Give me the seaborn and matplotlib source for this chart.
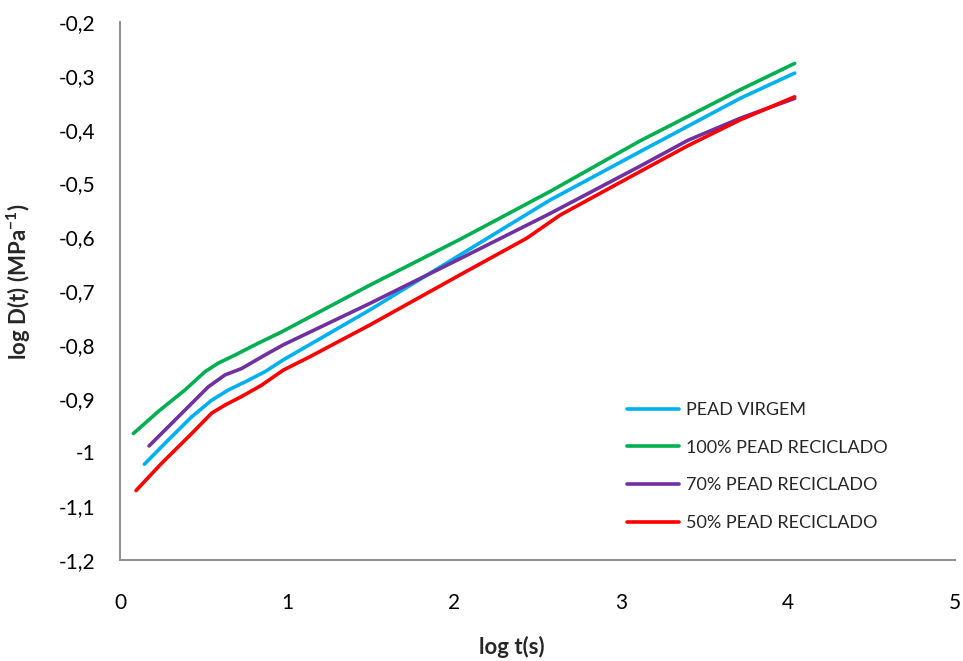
import matplotlib
matplotlib.use("Agg")
import matplotlib.pyplot as plt
from matplotlib.ticker import FuncFormatter, MultipleLocator
import pandas as pd
import seaborn as sns

# log t(s) / log D(t) readings for each material
virgem_x = [0.146, 0.289, 0.429, 0.549, 0.649, 0.749, 0.868, 0.978, 1.497, 2.036, 2.575, 3.114, 3.713, 4.04]
virgem_y = [-1.022, -0.977, -0.934, -0.903, -0.884, -0.869, -0.850, -0.828, -0.735, -0.633, -0.531, -0.441, -0.342, -0.295]

rec100_x = [0.080, 0.229, 0.389, 0.509, 0.589, 0.689, 0.828, 0.968, 1.497, 2.036, 2.575, 3.114, 3.713, 4.04]
rec100_y = [-0.965, -0.924, -0.884, -0.850, -0.834, -0.819, -0.797, -0.776, -0.689, -0.604, -0.515, -0.421, -0.326, -0.277]

rec70_x = [0.174, 0.329, 0.429, 0.529, 0.629, 0.729, 0.868, 0.978, 1.497, 2.036, 2.575, 3.114, 3.4, 3.713, 4.04]
rec70_y = [-0.988, -0.940, -0.909, -0.878, -0.856, -0.844, -0.819, -0.800, -0.723, -0.640, -0.556, -0.468, -0.42, -0.379, -0.342]

rec50_x = [0.096, 0.250, 0.429, 0.549, 0.629, 0.729, 0.848, 0.978, 1.138, 1.497, 2.036, 2.435, 2.635, 3.114, 3.4, 3.713, 4.04]
rec50_y = [-1.071, -1.020, -0.965, -0.927, -0.912, -0.896, -0.875, -0.847, -0.822, -0.763, -0.670, -0.602, -0.559, -0.478, -0.43, -0.382, -0.339]

series_names = ["PEAD VIRGEM", "100% PEAD RECICLADO", "70% PEAD RECICLADO", "50% PEAD RECICLADO"]
series_colors = ["#00B0F0", "#00B050", "#7030A0", "#FF0000"]

xticks = [0, 1, 2, 3, 4, 5]

sns.set_theme(style="white")
plt.rcParams["font.family"] = ["Lato", "DejaVu Sans"]
plt.rcParams["mathtext.fontset"] = "custom"
plt.rcParams["mathtext.rm"] = "Lato"
plt.rcParams["mathtext.bf"] = "Lato:bold"
plt.rcParams["axes.unicode_minus"] = False

frames = []
for name, xs, ys in zip(series_names,
                        [virgem_x, rec100_x, rec70_x, rec50_x],
                        [virgem_y, rec100_y, rec70_y, rec50_y]):
    frames.append(pd.DataFrame({"x": xs, "y": ys, "serie": name}))
df = pd.concat(frames, ignore_index=True)

fig = plt.figure(figsize=(9.63, 6.61), dpi=100)
ax = fig.add_axes([120 / 963, 1 - 560 / 661, 835 / 963, 538 / 661])

sns.lineplot(data=df, x="x", y="y", hue="serie", hue_order=series_names,
             palette=dict(zip(series_names, series_colors)),
             estimator=None, sort=False, linewidth=2.6, ax=ax,
             solid_capstyle="round", solid_joinstyle="round")

ax.set_xlim(0, 5)
ax.set_ylim(-1.2, -0.2)
ax.set_xticks(xticks)
ax.yaxis.set_major_locator(MultipleLocator(0.1))


def comma_fmt(v, pos):
    return ("%g" % round(v, 1)).replace(".", ",")


ax.yaxis.set_major_formatter(FuncFormatter(comma_fmt))
ax.xaxis.set_major_formatter(FuncFormatter(comma_fmt))
ax.tick_params(axis="both", length=0, labelsize=15, colors="black")
ax.tick_params(axis="y", pad=18)
ax.tick_params(axis="x", pad=24)

for side in ["top", "right"]:
    ax.spines[side].set_visible(False)
for side in ["left", "bottom"]:
    ax.spines[side].set_color("#868686")
    ax.spines[side].set_linewidth(1.3)

ax.set_xlabel("log t(s)", fontsize=16, fontweight="bold")
ax.set_ylabel(r"log D(t) (MPa$^{\mathbf{-1}}$)", fontsize=16, fontweight="bold")
ax.xaxis.set_label_coords(0.469, -0.141)
ax.yaxis.set_label_coords(-0.104, 0.517)

handles, labels = ax.get_legend_handles_labels()
ax.legend(handles, labels, loc="upper left", bbox_to_anchor=(627 / 963, 1 - 402 / 661),
          bbox_transform=fig.transFigure, frameon=False, fontsize=13,
          handlelength=2.9, handletextpad=0.35, labelspacing=1.2,
          borderpad=0, borderaxespad=0)

fig.savefig("out.png", dpi=100)
